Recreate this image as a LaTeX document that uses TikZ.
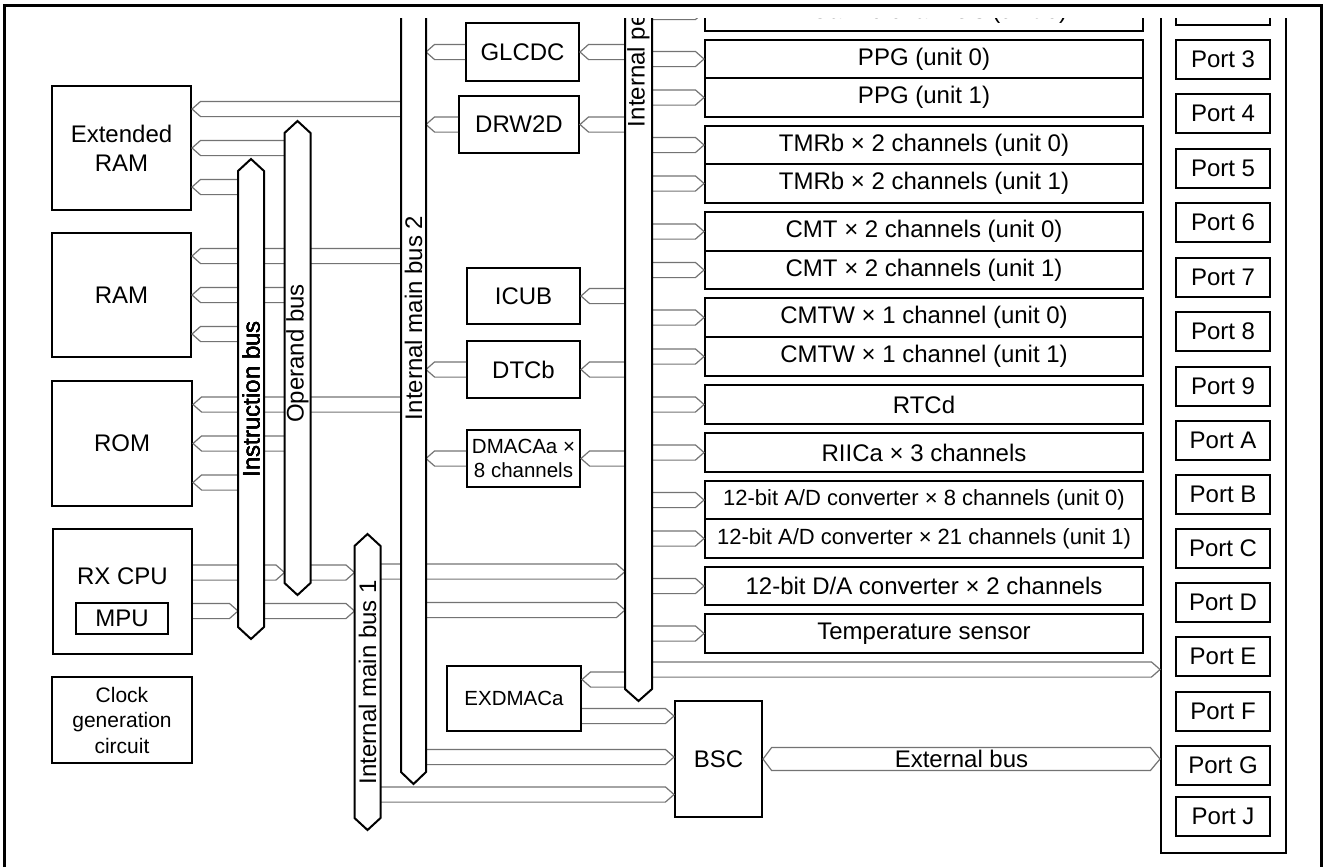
\documentclass[tikz,border=0pt]{standalone}
\usepackage{fontspec}
\setmainfont{Liberation Sans}
\usetikzlibrary{calc}
\definecolor{wire}{gray}{0.45}
\tikzset{
  every picture/.style={
    line width=1pt,
    font=\fontsize{12}{14.5}\selectfont
  },
  blk/.style={
    draw, fill=white, inner sep=1pt, align=center
  },
  unit/.style={
    blk, minimum width=219pt, minimum height=19.25pt
  },
  port/.style={
    blk, minimum width=47pt, minimum height=19.5pt
  },
  small/.style={
    font=\fontsize{10.25}{12}\selectfont
  },
  busbody/.style={
    minimum width=12pt, inner sep=0pt
  },
  buslabel/.style={
    rotate=90, inner sep=0pt
  },
  busR/.style={
    draw=wire, line width=0.6pt,
    to path={let \p1=(\tikztostart), \p2=(\tikztotarget) in
      (\x1,\y2+3.8pt) -- (\x2-4.3pt,\y2+3.8pt) -- (\x2,\y2)
      -- (\x2-4.3pt,\y2-3.8pt) -- (\x1,\y2-3.8pt)}
  },
  busL/.style={
    draw=wire, line width=0.6pt,
    to path={let \p1=(\tikztostart), \p2=(\tikztotarget) in
      (\x1,\y2+3.8pt) -- (\x2+4.3pt,\y2+3.8pt) -- (\x2,\y2)
      -- (\x2+4.3pt,\y2-3.8pt) -- (\x1,\y2-3.8pt)}
  },
  busLR/.style={
    draw=wire, line width=0.6pt,
    to path={let \p1=(\tikztostart), \p2=(\tikztotarget) in
      (\x1,\y2) -- (\x1+4.3pt,\y2+5.75pt) -- (\x2-4.8pt,\y2+5.75pt) -- (\x2,\y2)
      -- (\x2-4.8pt,\y2-5.75pt) -- (\x1+4.3pt,\y2-5.75pt) -- cycle}
  }
}
\newcommand{\busedge}[1]{%
  \draw[fill=white] (#1.north west) -- ([yshift=6pt]#1.north) -- (#1.north east)
    -- (#1.south east) -- ([yshift=-6pt]#1.south) -- (#1.south west) -- cycle;}

\begin{document}
\begin{tikzpicture}[x=0.5pt, y=-0.5pt]
  \useasboundingbox (0,0) rectangle (1325,867);
  \draw[line width=1.5pt] (4,867) -- (4,5) -- (1321,5) -- (1321,867);
  \begin{scope}
    \clip (0,18) rectangle (1325,867);
    \node[blk, minimum width=69.5pt, minimum height=62pt] (xram) at (121.5,148) {Extended\\RAM};
    \node[blk, minimum width=69.5pt, minimum height=62pt] (ram) at (121.5,295) {RAM};
    \node[blk, minimum width=70pt, minimum height=62.5pt] (rom) at (122,443.5) {ROM};
    \node[blk, minimum width=69.5pt, minimum height=62.5pt] (cpu) at (122.5,591.5) {};
    \node (cpulbl) at ([yshift=7.75pt]cpu.center) {RX CPU};
    \node[blk, minimum width=46pt, minimum height=15.5pt] (mpu) at (122,618.5) {MPU};
    \node[blk, minimum width=70pt, minimum height=43pt, font=\fontsize{10.5}{12.75}\selectfont] (clk) at (122,720) {Clock\\generation\\circuit};

    \node[blk, minimum width=56.5pt, minimum height=29pt] (glcdc) at (522.5,52) {GLCDC};
    \node[blk, minimum width=60pt, minimum height=28.5pt] (drw) at (519,124.5) {DRW2D};
    \node[blk, minimum width=56.5pt, minimum height=28pt] (icub) at (523.5,296) {ICUB};
    \node[blk, minimum width=56.5pt, minimum height=28.5pt] (dtc) at (523.5,369.5) {DTCb};
    \node[blk, small, minimum width=56.5pt, minimum height=28.5pt] (dmac) at (523.5,458.5) {DMACAa ×\\8 channels};
    \node[blk, small, minimum width=67pt, minimum height=32.5pt] (exdmac) at (514,698.5) {EXDMACa};
    \node[blk, minimum width=43.5pt, minimum height=58pt] (bsc) at (718.5,759) {BSC};

    \node[unit] (tpu) at (924,12) {TPUa × 6 channels (unit 0)};
    \node[unit] (ppg0) at (924,59) {PPG (unit 0)};
    \node[unit] (ppg1) at (924,97.5) {PPG (unit 1)};
    \node[unit] (tmr0) at (924,145) {TMRb × 2 channels (unit 0)};
    \node[unit] (tmr1) at (924,183.5) {TMRb × 2 channels (unit 1)};
    \node[unit] (cmt0) at (924,231.5) {CMT × 2 channels (unit 0)};
    \node[unit] (cmt1) at (924,270) {CMT × 2 channels (unit 1)};
    \node[unit] (cmtw0) at (924,317.5) {CMTW × 1 channel (unit 0)};
    \node[unit] (cmtw1) at (924,356.5) {CMTW × 1 channel (unit 1)};
    \node[unit] (rtc) at (924,404.5) {RTCd};
    \node[unit] (riic) at (924,452.5) {RIICa × 3 channels};
    \node[unit, font=\fontsize{11}{13}\selectfont] (adc0) at (924,500) {12-bit A/D converter × 8 channels (unit 0)};
    \node[unit, font=\fontsize{11}{13}\selectfont] (adc1) at (924,538.5) {12-bit A/D converter × 21 channels (unit 1)};
    \node[unit] (dac) at (924,586) {12-bit D/A converter × 2 channels};
    \node[unit] (temp) at (924,633.5) {Temperature sensor};

    \node[draw, minimum width=62.5pt, minimum height=446.5pt] (ports) at (1223.5,406.5) {};
    \node[port] (p2) at (1223,5) {};
    \foreach \p/\y in {3/59.5, 4/113.5, 5/168.5, 6/222.5, 7/277, 8/331.5, 9/386,
      A/440, B/494.5, C/548.5, D/602.5, E/656.5, F/711, G/765.5, J/816}
      \node[port] (p\p) at (1223,\y) {Port \p};

    \node[busbody, minimum height=227pt] (ib) at (251,399) {};
    \node[busbody, minimum height=224pt] (ob) at (297.5,358) {};
    \node[busbody, minimum width=11.5pt, minimum height=405.5pt] (mb2) at (413.5,365.5) {};
    \node[busbody, minimum height=135pt] (mb1) at (367.5,682) {};
    \node[busbody, minimum width=12.5pt, minimum height=364pt] (pb) at (638.5,324) {};

    \coordinate (cpuo) at ([yshift=9.5pt]cpu.east);
    \coordinate (cpui) at ([yshift=-9.75pt]cpu.east);
    \coordinate (lvA) at (0,571.5);
    \coordinate (lvB) at (0,610);
    \coordinate (lvC) at (0,669.5);
    \coordinate (xbe) at (ports.west |- bsc.east);

    \foreach \b in {xram,ram,rom} {
      \draw[busL] (mb2.west) to ([yshift=19.5pt]\b.east);
      \draw[busL] (ob.west) to (\b.east);
      \draw[busL] (ib.west) to ([yshift=-19.5pt]\b.east);
    }
    \draw[busR] (cpu.east) to (ob.west |- cpuo);
    \draw[busR] (ob.east) to (mb1.west |- cpuo);
    \draw[busR] (cpu.east) to (ib.west |- cpui);
    \draw[busR] (ib.east) to (mb1.west |- cpui);
    \draw[busR] (mb1.east) to (pb.west |- lvA);
    \draw[busR] (mb2.east) to (pb.west |- lvB);
    \foreach \b in {glcdc,drw,dtc,dmac}
      \draw[busL] (\b.west) to (mb2.east |- \b.west);
    \foreach \b in {glcdc,drw,icub,dtc,dmac}
      \draw[busL] (pb.west) to (\b.east);
    \draw[busL] (pb.west) to ([yshift=9.5pt]exdmac.east);
    \draw[busR] (exdmac.east) to ([yshift=21.5pt]bsc.west);
    \draw[busR] (mb2.east) to ([yshift=1pt]bsc.west);
    \draw[busR] (mb1.east) to ([yshift=-17.75pt]bsc.west);
    \draw[busLR] (bsc.east) to (xbe);
    \node (xbus) at ($(bsc.east)!0.5!(xbe)$) {External bus};
    \draw[busR] (pb.east) to (ports.west |- lvC);
    \foreach \b in {tpu,ppg0,ppg1,tmr0,tmr1,cmt0,cmt1,cmtw0,cmtw1,rtc,riic,adc0,adc1,dac,temp}
      \draw[busR] (pb.east) to (\b.west);

    \foreach \b in {ib,ob,mb1,mb2,pb}
      \busedge{\b}
    \node[buslabel] (ibl) at (ib) {Instruction bus};
    \node[buslabel] (obl) at (297.5,353.5) {Operand bus};
    \node[buslabel] (mb1l) at (mb1) {Internal main bus 1};
    \node[buslabel, anchor=west] (mb2l) at (413.5,421) {Internal main bus 2};
    \node[buslabel, anchor=west] (pbl) at (638.5,128) {Internal peripheral buses 1 to 6};
  \end{scope}
\end{tikzpicture}
\end{document}
